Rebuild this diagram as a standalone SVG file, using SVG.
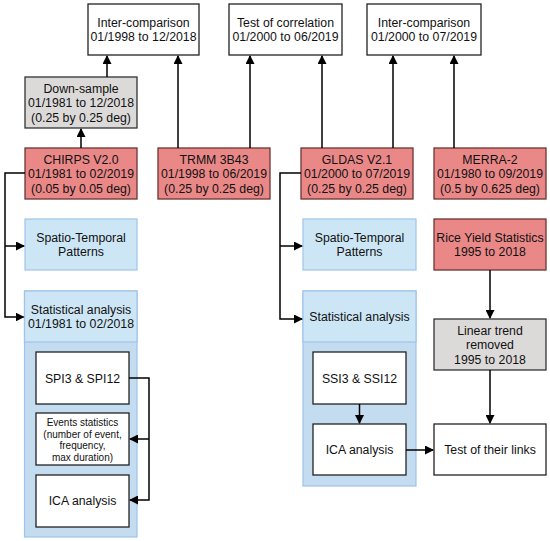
<svg xmlns="http://www.w3.org/2000/svg" width="550" height="541" viewBox="0 0 550 541">
<defs>
<marker id="ah" markerWidth="9" markerHeight="9" refX="8" refY="4.5" orient="auto" markerUnits="userSpaceOnUse">
<path d="M0,0 L9,4.5 L0,9 Z" fill="#000"/>
</marker>
<style>
text{font-family:"Liberation Sans",Arial,sans-serif;font-size:12.3px;fill:#111;text-anchor:middle}
.w{fill:#fff;stroke:#222;stroke-width:1.3}
.g{fill:#dcdad9;stroke:#333;stroke-width:1.3}
.r{fill:#ea8888;stroke:#6b3535;stroke-width:1.3}
.b{fill:#cde6f5;stroke:#9fc3ea;stroke-width:1.2}
.bb{fill:#c3dcf0;stroke:#9fc3ea;stroke-width:1.2}
.c{fill:none;stroke:#000;stroke-width:1.5}
.s{font-size:10px}
</style>
</defs>
<rect width="550" height="541" fill="#fff"/>

<g id="ic1"><rect class="w" x="88" y="4" width="111" height="51"/><text x="143.5" y="27">Inter-comparison</text><text x="143.5" y="41">01/1998 to 12/2018</text></g>
<g id="toc"><rect class="w" x="229" y="4" width="113" height="51"/><text x="285.5" y="27">Test of correlation</text><text x="285.5" y="41">01/2000 to 06/2019</text></g>
<g id="ic2"><rect class="w" x="367" y="4" width="114" height="51"/><text x="424" y="27">Inter-comparison</text><text x="424" y="41">01/2000 to 07/2019</text></g>

<g id="downsample"><rect class="g" x="25" y="77" width="112" height="51"/><text x="81" y="92.5">Down-sample</text><text x="81" y="107">01/1981 to 12/2018</text><text x="81" y="121.5">(0.25 by 0.25 deg)</text></g>

<g id="chirps"><rect class="r" x="25" y="148" width="112" height="51"/><text x="81" y="163.5">CHIRPS V2.0</text><text x="81" y="178">01/1981 to 02/2019</text><text x="81" y="192.5">(0.05 by 0.05 deg)</text></g>
<g id="trmm"><rect class="r" x="158" y="148" width="112" height="51"/><text x="214" y="163.5">TRMM 3B43</text><text x="214" y="178">01/1998 to 06/2019</text><text x="214" y="192.5">(0.25 by 0.25 deg)</text></g>
<g id="gldas"><rect class="r" x="301" y="148" width="112" height="51"/><text x="357" y="163.5">GLDAS V2.1</text><text x="357" y="178">01/2000 to 07/2019</text><text x="357" y="192.5">(0.25 by 0.25 deg)</text></g>
<g id="merra"><rect class="r" x="434" y="148" width="112" height="51"/><text x="490" y="163.5">MERRA-2</text><text x="490" y="178">01/1980 to 09/2019</text><text x="490" y="192.5">(0.5 by 0.625 deg)</text></g>

<g id="st1"><rect class="b" x="25" y="219" width="112" height="51"/><text x="81" y="242">Spatio-Temporal</text><text x="81" y="256">Patterns</text></g>
<g id="st2"><rect class="b" x="303" y="219" width="113" height="51"/><text x="359.5" y="242">Spatio-Temporal</text><text x="359.5" y="256">Patterns</text></g>
<g id="rice"><rect class="r" x="434" y="219" width="112" height="51"/><text x="490" y="242">Rice Yield Statistics</text><text x="490" y="256">1995 to 2018</text></g>

<g id="sa1"><rect class="bb" x="24.5" y="291" width="112.5" height="246"/><rect class="b" x="24.5" y="291" width="112.5" height="51"/><text x="81" y="314">Statistical analysis</text><text x="81" y="328">01/1981 to 02/2018</text></g>
<g id="spi"><rect class="w" x="36" y="352" width="93" height="52"/><text x="82.5" y="382.5">SPI3 &amp; SPI12</text></g>
<g id="events"><rect class="w" x="36" y="413" width="93" height="52"/><text class="s" x="82.5" y="425.5">Events statistics</text><text class="s" x="82.5" y="437.5">(number of event,</text><text class="s" x="82.5" y="449">frequency,</text><text class="s" x="82.5" y="460.5">max duration)</text></g>
<g id="ica1"><rect class="w" x="36" y="475" width="93" height="52"/><text x="82.5" y="505">ICA analysis</text></g>

<g id="sa2"><rect class="bb" x="303" y="291" width="113" height="195"/><rect class="b" x="303" y="291" width="113" height="51"/><text x="359.5" y="321">Statistical analysis</text></g>
<g id="ssi"><rect class="w" x="313" y="352" width="93" height="52"/><text x="359.5" y="382.5">SSI3 &amp; SSI12</text></g>
<g id="ica2"><rect class="w" x="313" y="424" width="93" height="51"/><text x="359.5" y="454">ICA analysis</text></g>

<g id="linear"><rect class="g" x="434" y="319" width="112" height="51"/><text x="490" y="334.5">Linear trend</text><text x="490" y="349">removed</text><text x="490" y="363.5">1995 to 2018</text></g>
<g id="links"><rect class="w" x="434" y="424" width="112" height="51"/><text x="490" y="454">Test of their links</text></g>

<g id="connectors">
<path class="c" d="M81,148 V129" marker-end="url(#ah)"/>
<path class="c" d="M107,77 V56" marker-end="url(#ah)"/>
<path class="c" d="M178,148 V56" marker-end="url(#ah)"/>
<path class="c" d="M250,148 V56" marker-end="url(#ah)"/>
<path class="c" d="M322,148 V56" marker-end="url(#ah)"/>
<path class="c" d="M393,148 V56" marker-end="url(#ah)"/>
<path class="c" d="M454,148 V56" marker-end="url(#ah)"/>
<path class="c" d="M25,173 H5 V317 H23.5" marker-end="url(#ah)"/>
<path class="c" d="M5,246 H24" marker-end="url(#ah)"/>
<path class="c" d="M301,173 H280 V319 H302" marker-end="url(#ah)"/>
<path class="c" d="M280,246 H302" marker-end="url(#ah)"/>
<path class="c" d="M129,378 H149 V500 H130" marker-end="url(#ah)"/>
<path class="c" d="M149,439 H130" marker-end="url(#ah)"/>
<path class="c" d="M359.5,404 V423" marker-end="url(#ah)"/>
<path class="c" d="M406,450 H433" marker-end="url(#ah)"/>
<path class="c" d="M490,270 V318" marker-end="url(#ah)"/>
<path class="c" d="M490,370 V423" marker-end="url(#ah)"/>
</g>
</svg>
